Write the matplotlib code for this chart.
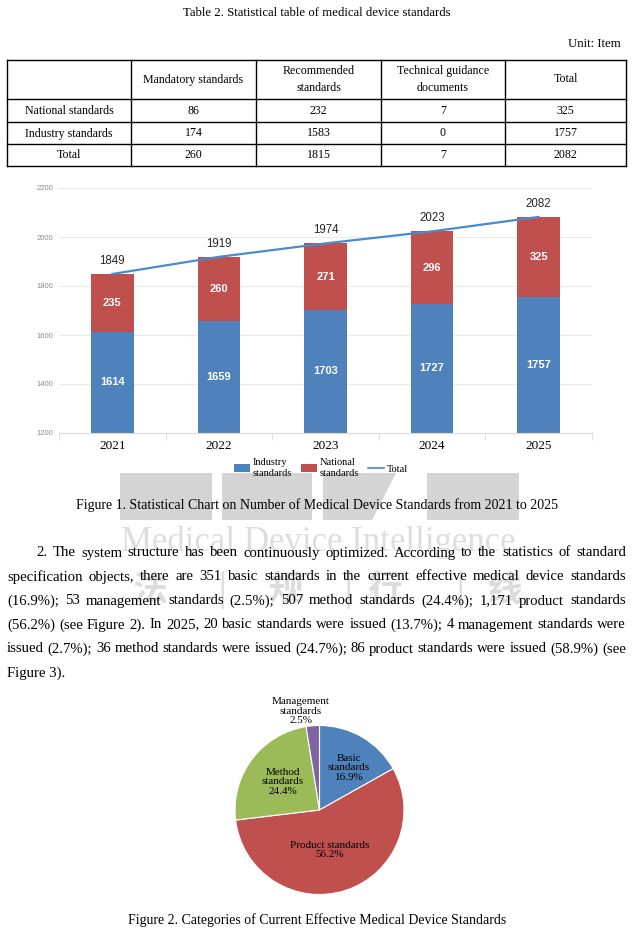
import matplotlib
matplotlib.use('Agg')
import matplotlib.pyplot as plt
from matplotlib.patches import Rectangle, Polygon, Patch
from matplotlib.lines import Line2D

# ---------------- data ----------------
table_title = "Table 2. Statistical table of medical device standards"
table_unit = "Unit: Item"
table_cols = ["", "Mandatory standards", "Recommended\nstandards",
              "Technical guidance\ndocuments", "Total"]
table_rows = ["National standards", "Industry standards", "Total"]
mandatory = [86, 174, 260]
recommended = [232, 1583, 1815]
technical = [7, 0, 7]
row_total = [325, 1757, 2082]

years = ["2021", "2022", "2023", "2024", "2025"]
industry = [1614, 1659, 1703, 1727, 1757]
national = [235, 260, 271, 296, 325]
totals = [1849, 1919, 1974, 2023, 2082]
yticks = [1200, 1400, 1600, 1800, 2000, 2200]
legend_labels = ["Industry\nstandards", "National\nstandards", "Total"]
fig1_caption = "Figure 1. Statistical Chart on Number of Medical Device Standards from 2021 to 2025"

para_lines = [
    "2. The system structure has been continuously optimized. According to the statistics of standard",
    "specification objects, there are 351 basic standards in the current effective medical device standards",
    "(16.9%); 53 management standards (2.5%); 507 method standards (24.4%); 1,171 product standards",
    "(56.2%) (see Figure 2). In 2025, 20 basic standards were issued (13.7%); 4 management standards were",
    "issued (2.7%); 36 method standards were issued (24.7%); 86 product standards were issued (58.9%) (see",
    "Figure 3).",
]

pie_labels = ["Basic\nstandards", "Product standards", "Method\nstandards", "Management\nstandards"]
pie_counts = [351, 1171, 507, 53]
pie_pct = ["16.9%", "56.2%", "24.4%", "2.5%"]
fig2_caption = "Figure 2. Categories of Current Effective Medical Device Standards"

watermark_en = "Medical Device Intelligence"
watermark_cn = ["法", "|", "规", "|", "行", "|", "线"]

# ---------------- styles ----------------
W, H = 634, 934
SERIF = ['Liberation Serif', 'DejaVu Serif']
SANS = ['Liberation Sans', 'DejaVu Sans']
BLUE, RED, GREEN, PURPLE = '#4F81BD', '#C0504D', '#9BBB59', '#8064A2'
LINE_BLUE = '#4a8ad0'

fig = plt.figure(figsize=(W / 100, H / 100), dpi=100)
bg = fig.add_axes([0, 0, 1, 1], zorder=0)
bg.set_xlim(0, W)
bg.set_ylim(H, 0)
bg.axis('off')
renderer = fig.canvas.get_renderer()


def fx(px):
    return px / W


def fy(py):
    return 1 - py / H


# ---------------- watermark (behind) ----------------
WM = '#d4d4d4'
bg.add_patch(Rectangle((120, 473), 92, 47, color=WM, lw=0, zorder=0))
bg.add_patch(Rectangle((222, 473), 90, 47, color=WM, lw=0, zorder=0))
bg.add_patch(Polygon([(323, 473), (396, 473), (372, 520), (323, 520)], closed=True,
                     color=WM, lw=0, zorder=0))
bg.add_patch(Rectangle((427, 473), 92, 47, color=WM, lw=0, zorder=0))
bg.text(318, 542, watermark_en, family=SERIF, fontsize=25, color='#dedede',
        ha='center', va='center', zorder=0.5)
cn_x = [150, 222, 285, 348, 385, 460, 505]
for ch, xx in zip(watermark_cn, cn_x):
    bg.text(xx, 590, ch, family=['Noto Sans CJK SC', 'DejaVu Sans'], fontsize=25,
            color='#dcdcdc', ha='center', va='center', zorder=0.5,
            fontweight='bold' if ch != '|' else 'normal')

# ---------------- table ----------------
bg.text(317, 13, table_title, family=SERIF, fontsize=9.2, ha='center', va='center', zorder=3)
bg.text(621, 44, table_unit, family=SERIF, fontsize=9.2, ha='right', va='center', zorder=3)
col_x = [7, 131, 256, 381, 505, 626]
row_y = [60, 99, 122, 144, 166]
for xx in col_x:
    bg.add_line(Line2D([xx, xx], [row_y[0], row_y[-1]], color='black', lw=1, zorder=3))
for yy in row_y:
    bg.add_line(Line2D([col_x[0], col_x[-1]], [yy, yy], color='black', lw=1, zorder=3))
for j, c in enumerate(table_cols):
    if c:
        bg.text((col_x[j] + col_x[j + 1]) / 2, (row_y[0] + row_y[1]) / 2, c, family=SERIF,
                fontsize=8.6, ha='center', va='center', linespacing=1.45, zorder=3)
cells = list(zip(table_rows, mandatory, recommended, technical, row_total))
for i, row in enumerate(cells):
    for j, v in enumerate(row):
        bg.text((col_x[j] + col_x[j + 1]) / 2, (row_y[i + 1] + row_y[i + 2]) / 2 + 0.5, str(v),
                family=SERIF, fontsize=8.6, ha='center', va='center', zorder=3)

# ---------------- bar chart ----------------
ax = fig.add_axes([fx(59), fy(433), fx(592 - 59), (433 - 188) / H], zorder=2)
ax.patch.set_alpha(0)
x = list(range(len(years)))
ax.bar(x, industry, width=0.4, color=BLUE, zorder=2)
ax.bar(x, national, width=0.4, bottom=industry, color=RED, zorder=2)
ax.plot(x, totals, color=LINE_BLUE, lw=1.6, zorder=3)
ax.set_ylim(1200, 2200)
ax.set_xlim(-0.5, 4.5)
ax.set_yticks(yticks)
ax.set_yticklabels([str(v) for v in yticks], family=SANS, fontsize=5.5, color='#8c8c8c')
ax.tick_params(axis='y', length=0, pad=4)
ax.grid(axis='y', color='#ebebeb', lw=0.8)
ax.set_axisbelow(True)
ax.set_xticks(x)
ax.set_xticklabels(years, family=SERIF, fontsize=9.5)
ax.set_xticks([i - 0.5 for i in range(len(years) + 1)], minor=True)
ax.tick_params(axis='x', which='major', length=0, pad=5)
ax.tick_params(axis='x', which='minor', length=5, color='#d9d9d9', direction='out')
for s in ['left', 'right', 'top']:
    ax.spines[s].set_visible(False)
ax.spines['bottom'].set_color('#d9d9d9')
for i in x:
    ax.text(i, (1200 + industry[i]) / 2, str(industry[i]), family=SANS, fontsize=8,
            fontweight='bold', color='white', ha='center', va='center', zorder=4)
    ax.text(i, industry[i] + national[i] / 2, str(national[i]), family=SANS, fontsize=8,
            fontweight='bold', color='white', ha='center', va='center', zorder=4)
    ax.annotate(str(totals[i]), (i, totals[i]), xytext=(0, 9.5), textcoords='offset points',
                family=SANS, fontsize=8.3, color='#262626', ha='center', va='center', zorder=4)

handles = [Patch(facecolor=BLUE), Patch(facecolor=RED), Line2D([0], [0], color=LINE_BLUE, lw=1.2)]
fig.legend(handles, legend_labels, ncol=3, loc='center', bbox_to_anchor=(fx(321), fy(468)),
           frameon=False, prop={'family': SERIF, 'size': 7.5}, handlelength=1.5,
           handleheight=0.9, handletextpad=0.25, columnspacing=0.9, borderpad=0,
           labelspacing=0)

bg.text(317, 505, fig1_caption, family=SERIF, fontsize=10, ha='center', va='center', zorder=3)

# ---------------- paragraph (justified) ----------------
LEFT, RIGHT = 7, 626
probe = bg.text(0, 0, para_lines[3], family=SERIF, fontsize=10)
pw = probe.get_window_extent(renderer).width
probe.remove()
PFS = min(11.5, 10 * (RIGHT - LEFT - 4) / pw)
y0, dy = 552, 24
for k, line in enumerate(para_lines):
    yb = y0 + k * dy + 4.5
    start = 36 if k == 0 else LEFT
    if k == len(para_lines) - 1:
        bg.text(start, yb, line, family=SERIF, fontsize=PFS, ha='left', va='baseline', zorder=3)
        continue
    words = line.split(' ')
    txts = [bg.text(0, yb, w, family=SERIF, fontsize=PFS, ha='left', va='baseline', zorder=3)
            for w in words]
    widths = [t.get_window_extent(renderer).width for t in txts]
    gap = (RIGHT - start - sum(widths)) / (len(words) - 1)
    xx = start
    for t, w in zip(txts, widths):
        t.set_x(xx)
        xx += w + gap

# ---------------- pie ----------------
cx, cy, r = 319.5, 810, 84.5
pax = fig.add_axes([fx(cx - r), fy(cy + r), 2 * r / W, 2 * r / H], zorder=2)
pax.pie(pie_counts, colors=[BLUE, RED, GREEN, PURPLE], startangle=90, counterclock=False,
        wedgeprops=dict(edgecolor='white', linewidth=0.8))
pax.set_xlim(-1, 1)
pax.set_ylim(-1, 1)
pax.set_aspect('equal')
label_px = [(349, 768), (330, 850), (283, 782), (301, 711)]
for lab, pct, (px, py) in zip(pie_labels, pie_pct, label_px):
    pax.text((px - cx) / r, -(py - cy) / r, lab + "\n" + pct, family=SERIF, fontsize=8,
             ha='center', va='center', linespacing=1.12, clip_on=False)

bg.text(317, 920, fig2_caption, family=SERIF, fontsize=10, ha='center', va='center', zorder=3)

fig.savefig('out.png', dpi=100)
